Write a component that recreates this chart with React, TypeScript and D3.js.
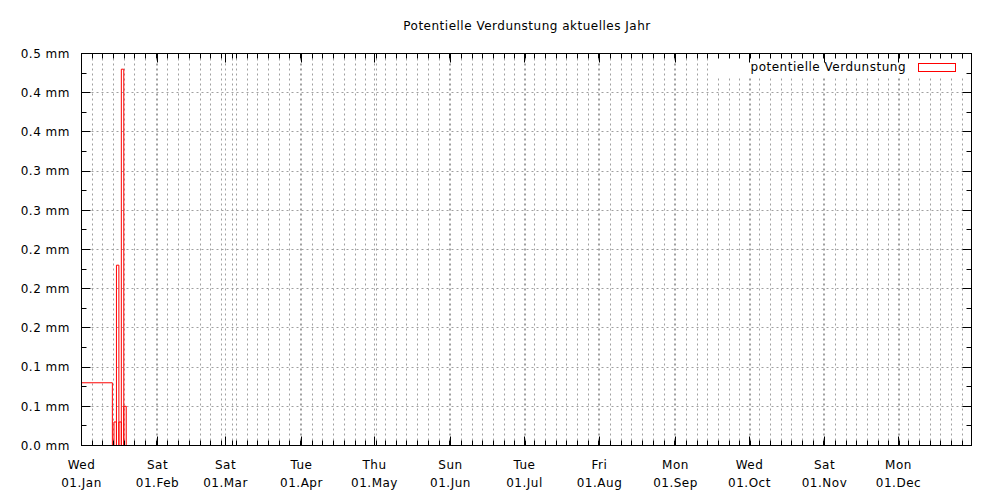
import React from "react";
import * as d3 from "d3";

const W = 1000;
const H = 500;

const chartTitle = "Potentielle Verdunstung aktuelles Jahr";
const seriesName = "potentielle Verdunstung";

// boxes: start/end time, value (mm)
const periodStart = [
  "2025-01-01T00:00",
  "2025-01-14T07:00",
  "2025-01-15T07:00",
  "2025-01-16T07:00",
  "2025-01-17T07:00",
  "2025-01-18T07:00",
];
const periodEnd = [
  "2025-01-13T15:00",
  "2025-01-15T07:00",
  "2025-01-16T07:00",
  "2025-01-17T07:00",
  "2025-01-18T07:00",
  "2025-01-19T07:00",
];
const evaporation = [0.08, 0.03, 0.23, 0.03, 0.48, 0.05];

const monthStarts = [
  "2025-01-01", "2025-02-01", "2025-03-01", "2025-04-01", "2025-05-01", "2025-06-01",
  "2025-07-01", "2025-08-01", "2025-09-01", "2025-10-01", "2025-11-01", "2025-12-01",
];
const weekdayLabels = ["Wed", "Sat", "Sat", "Tue", "Thu", "Sun", "Tue", "Fri", "Mon", "Wed", "Sat", "Mon"];
const dateLabels = ["01.Jan", "01.Feb", "01.Mar", "01.Apr", "01.May", "01.Jun", "01.Jul", "01.Aug", "01.Sep", "01.Oct", "01.Nov", "01.Dec"];

const yTicks = [0, 0.05, 0.1, 0.15, 0.2, 0.25, 0.3, 0.35, 0.4, 0.45, 0.5];
const yTickLabels = ["0.0 mm", "0.1 mm", "0.1 mm", "0.2 mm", "0.2 mm", "0.2 mm", "0.3 mm", "0.3 mm", "0.4 mm", "0.4 mm", "0.5 mm"];

const parse = (s: string) => new Date(s);

export default function App() {
  const left = 81.5;
  const right = 971.5;
  const top = 53.5;
  const bottom = 445.5;

  const x = d3.scaleTime().domain([parse("2025-01-01T00:00"), parse("2025-12-31T00:00")]).range([left, right]);
  const y = d3.scaleLinear().domain([0, 0.5]).range([bottom, top]);

  const crisp = (v: number) => Math.round(v - 0.5) + 0.5;

  const majorX = monthStarts.map((m) => crisp(x(parse(m + "T00:00"))));
  const minorStepDays = 4.375;
  const minorX: number[] = [];
  monthStarts.forEach((m) => {
    const t0 = parse(m + "T00:00").getTime();
    for (let k = 1; k <= 7; k++) {
      const t = new Date(t0 + k * minorStepDays * 86400000);
      const px = x(t);
      if (px < right - 0.5) minorX.push(crisp(px));
    }
  });

  const minorY: number[] = [];
  for (let i = 0; i < yTicks.length - 1; i++) minorY.push(crisp(y((yTicks[i] + yTicks[i + 1]) / 2)));

  const font = "'DejaVu Sans', sans-serif";
  const ls = 0.5;
  const gridStyle = { stroke: "#a0a0a0", strokeWidth: 1, strokeDasharray: "2,3" };

  const boxes = evaporation.map((v, i) => {
    const x0 = x(parse(periodStart[i]));
    const x1 = x(parse(periodEnd[i]));
    const yv = y(v);
    return `M${x0},${bottom}V${yv}H${x1}V${bottom}`;
  });

  return (
    <svg width={W} height={H} style={{ position: "absolute", left: 0, top: 0, background: "#fff" }}>
      <rect x={0} y={0} width={W} height={H} fill="#fff" />
      {/* grid */}
      {yTicks.slice(1, -1).map((v, i) => (
        <line key={"gy" + i} x1={left} x2={right} y1={crisp(y(v))} y2={crisp(y(v))} {...gridStyle} />
      ))}
      {[...majorX.slice(1), ...minorX].map((px, i) => (
        <line key={"gx" + i} x1={px} x2={px} y1={top} y2={bottom} {...gridStyle} />
      ))}
      {/* legend background */}
      <rect x={708} y={top + 0.5} width={right - 708 - 0.5} height={22} fill="#fff" />
      {/* data */}
      {boxes.map((d, i) => (
        <path key={"b" + i} d={d} fill="none" stroke="#ff0000" strokeWidth={1} />
      ))}
      {/* border */}
      <rect x={left} y={top} width={right - left} height={bottom - top} fill="none" stroke="#000" strokeWidth={1} />
      {/* y ticks */}
      {yTicks.map((v, i) => (
        <g key={"yt" + i}>
          <line x1={left} x2={left + 9} y1={crisp(y(v))} y2={crisp(y(v))} stroke="#000" />
          <line x1={right} x2={right - 9} y1={crisp(y(v))} y2={crisp(y(v))} stroke="#000" />
          <text x={70} y={y(v)} dy="0.35em" textAnchor="end" fontFamily={font} fontSize={12} letterSpacing={ls} fill="#000">
            {yTickLabels[i]}
          </text>
        </g>
      ))}
      {minorY.map((py, i) => (
        <g key={"ym" + i}>
          <line x1={left} x2={left + 5} y1={py} y2={py} stroke="#000" />
          <line x1={right} x2={right - 5} y1={py} y2={py} stroke="#000" />
        </g>
      ))}
      {/* x ticks */}
      {majorX.map((px, i) => (
        <g key={"xt" + i}>
          <line x1={px} x2={px} y1={bottom} y2={bottom - 9} stroke="#000" />
          <line x1={px} x2={px} y1={top} y2={top + 9} stroke="#000" />
          <text x={px} y={469} textAnchor="middle" fontFamily={font} fontSize={12} letterSpacing={ls} fill="#000">
            {weekdayLabels[i]}
          </text>
          <text x={px} y={487} textAnchor="middle" fontFamily={font} fontSize={12} letterSpacing={ls} fill="#000">
            {dateLabels[i]}
          </text>
        </g>
      ))}
      {minorX.map((px, i) => (
        <g key={"xm" + i}>
          <line x1={px} x2={px} y1={bottom} y2={bottom - 5} stroke="#000" />
          <line x1={px} x2={px} y1={top} y2={top + 5} stroke="#000" />
        </g>
      ))}
      {/* title */}
      <text x={527} y={30} textAnchor="middle" fontFamily={font} fontSize={12} letterSpacing={ls} fill="#000">
        {chartTitle}
      </text>
      {/* legend */}
      <text x={906} y={67} dy="0.35em" textAnchor="end" fontFamily={font} fontSize={12} letterSpacing={ls} fill="#000">
        {seriesName}
      </text>
      <rect x={918.5} y={63.5} width={37} height={8} fill="none" stroke="#ff0000" strokeWidth={1} />
    </svg>
  );
}
